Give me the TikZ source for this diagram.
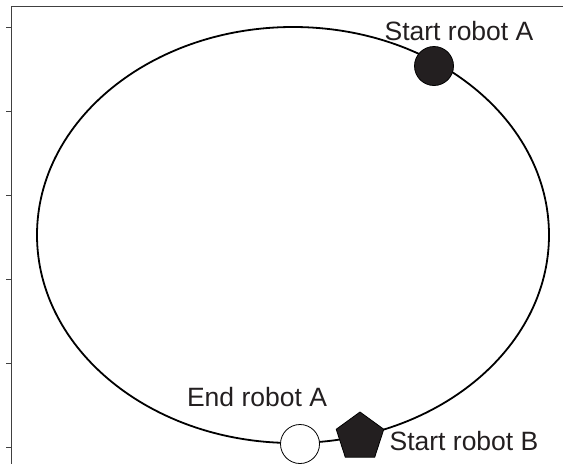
\documentclass[tikz,border=0pt]{standalone}
\usepackage{fontspec}
\setmainfont{Liberation Sans}
\usetikzlibrary{shapes.geometric}
\definecolor{robotfill}{RGB}{35,31,32}
\begin{document}
\begin{tikzpicture}[x=1pt, y=-1pt, font=\fontsize{26.5}{30}\selectfont,
  robot/.style={draw=black, line width=0.8pt, inner sep=0pt, fill=robotfill},
  tag/.style={text=robotfill, inner sep=0pt}]
\useasboundingbox (0,0) rectangle (563,464);
% frame and ticks
\draw [line width=1pt, black!75] (563,6) -- (11,6) -- (11,464);
\foreach \y in {27,111,195,279,363,447}
  \draw [line width=1pt, black!75] (6,\y) -- (11,\y);
% track
\draw [line width=1.8pt] (293,235) ellipse [x radius=256, y radius=208];
% robots
\node (startA) at (434,66) [robot, circle, minimum size=39pt] {};
\node (endA) at (300,444) [robot, circle, fill=white, minimum size=39pt] {};
\node (startB) at (360,437) [robot, regular polygon, regular polygon sides=5, minimum size=50pt] {};
\node (startAtag) at (459,31) [tag] {Start robot A};
\node (endAtag) at (257,397) [tag] {End robot A};
\node (startBtag) at (464,441) [tag] {Start robot B};
\end{tikzpicture}
\end{document}
